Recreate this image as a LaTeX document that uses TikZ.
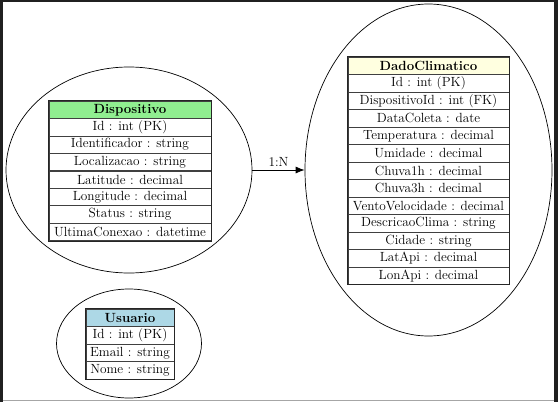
\documentclass[tikz,border=0pt]{standalone}
\usetikzlibrary{shapes.geometric,arrows.meta}
\definecolor{framebg}{HTML}{202020}
\definecolor{hdgreen}{HTML}{90EE90}
\definecolor{hdyellow}{HTML}{FFFFE0}
\definecolor{hdblue}{HTML}{ADD8E6}
\tikzset{
  ell/.style={draw=black, line width=0.7pt, ellipse, inner sep=0pt},
  cell/.style={draw=black!75, line width=0.7pt, rectangle, inner sep=0pt, minimum height=17.5pt},
  hdr/.style={cell, font=\fontsize{13.3}{15}\selectfont\bfseries},
  tbl/.style={draw=black!85, line width=1pt}
}
\begin{document}
\begin{tikzpicture}[x=1pt,y=-1pt, font=\fontsize{13.3}{15}\selectfont]
\useasboundingbox (0,0) rectangle (558,402);
\fill[framebg] (0,0) rectangle (558,402);
\fill[white] (3,2) rectangle (554,402);
\draw[black!35, line width=1pt] (3,400.5) -- (554,400.5);

% ellipses
\node[ell, minimum width=246pt, minimum height=206pt] (dispE) at (129,170) {};
\node[ell, minimum width=247pt, minimum height=332pt] (dadoE) at (428.5,170) {};
\node[ell, minimum width=145pt, minimum height=109pt] (usuE) at (129,343.5) {};

% Dispositivo table
\node[hdr, fill=hdgreen, minimum width=162pt] (d0) at (130,109.75) {Dispositivo};
\foreach \t [count=\i from 1] in {{Id : int (PK)},{Identificador : string},{Localizacao : string},{Latitude : decimal},{Longitude : decimal},{Status : string},{UltimaConexao : datetime}}
  \node[cell, minimum width=162pt] (d\i) at (130,109.75+17.46*\i) {\t};
\draw[tbl] (d0.north west) rectangle (d7.south east);

% DadoClimatico table
\node[hdr, fill=hdyellow, minimum width=161pt] (c0) at (428.5,65.75) {DadoClimatico};
\foreach \t [count=\i from 1] in {{Id : int (PK)},{DispositivoId : int (FK)},{DataColeta : date},{Temperatura : decimal},{Umidade : decimal},{Chuva1h : decimal},{Chuva3h : decimal},{VentoVelocidade : decimal},{DescricaoClima : string},{Cidade : string},{LatApi : decimal},{LonApi : decimal}}
  \node[cell, minimum width=161pt] (c\i) at (428.5,65.75+17.5*\i) {\t};
\draw[tbl] (c0.north west) rectangle (c12.south east);

% Usuario table
\node[hdr, fill=hdblue, minimum width=88pt] (u0) at (130,317.75) {Usuario};
\foreach \t [count=\i from 1] in {{Id : int (PK)},{Email : string},{Nome : string}}
  \node[cell, minimum width=88pt] (u\i) at (130,317.75+17.5*\i) {\t};
\draw[tbl] (u0.north west) rectangle (u3.south east);

% relation
\draw[-{Latex[length=9pt,width=7pt]}, line width=0.8pt] (dispE.east) -- node[above, inner sep=3pt] (lbl) {1:N} (dadoE.west);
\end{tikzpicture}
\end{document}
